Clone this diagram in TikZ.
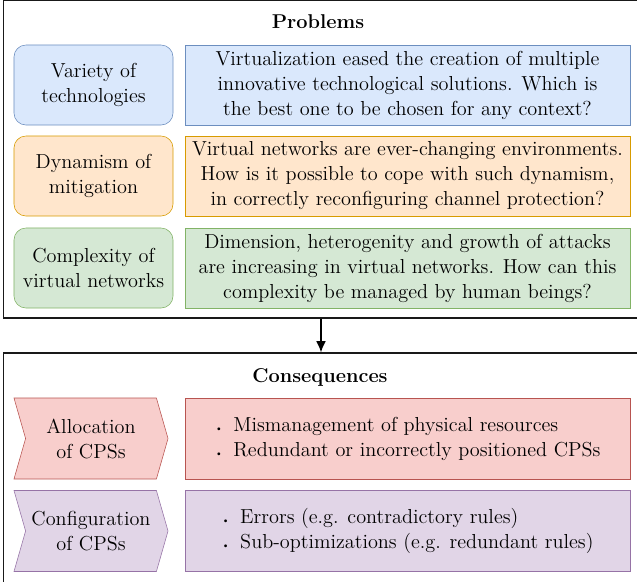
\documentclass[tikz,border=0pt]{standalone}
\usepackage{fontspec}
\usetikzlibrary{shapes}
\usetikzlibrary{shapes.symbols}
\usetikzlibrary{positioning}
\usetikzlibrary{arrows.meta}
\definecolor{bluef}{HTML}{DAE8FC}\definecolor{bluel}{HTML}{6C8EBF}
\definecolor{orangef}{HTML}{FFE6CC}\definecolor{orangel}{HTML}{D79B00}
\definecolor{greenf}{HTML}{D5E8D4}\definecolor{greenl}{HTML}{82B366}
\definecolor{redf}{HTML}{F8CECC}\definecolor{redl}{HTML}{B85450}
\definecolor{purplef}{HTML}{E1D5E7}\definecolor{purplel}{HTML}{9673A6}
\tikzset{
    frame/.style = {rectangle, draw=black!90, line width=0.8pt, minimum width=15.85cm},
    title/.style = {font=\fontsize{14.2}{17.8}\selectfont\bfseries},
    topic/.style = {rectangle, rounded corners=0.3cm, draw=#1l, fill=#1f, align=center, minimum width=3.975cm, minimum height=2cm, inner xsep=1pt, font=\fontsize{14.4}{17.8}\selectfont},
    arrowbox/.style = {signal, signal from=west, signal to=east, signal pointer angle=148, draw=#1l, fill=#1f, align=center, minimum width=3.85cm, minimum height=2.025cm, inner xsep=1pt, font=\fontsize{14.4}{17.8}\selectfont},
    textbox/.style = {rectangle, draw=#1l, fill=#1f, align=center, minimum width=11.125cm, minimum height=2cm, font=\fontsize{14.4}{17.8}\selectfont},
    listbox/.style = {textbox=#1, minimum height=2.025cm, align=left},
    edgen/.style = {-{Latex[length=8pt,width=7pt]}, line width=1.1pt, black}
}
\newcommand{\bul}{{\scriptsize\textbullet}\hspace{0.5em}}

\begin{document}
\begin{tikzpicture}[x=0.025cm, y=-0.025cm]
\useasboundingbox (0,0) rectangle (637,581);
%
\node[frame, minimum height=7.95cm] at (321,159) (probs) {};
\node[frame, minimum height=5.9cm] at (321,471) (cons) {};
%
\node[title] at (318,22) (ptitle) {Problems};
\node[topic=blue] at (93.5,85) (variety) {Variety of\\technologies};
\node[textbox=blue] at (407.5,85) (varietyq) {Virtualization eased the creation of multiple\\innovative technological solutions. Which is\\the best one to be chosen for any context?};
\node[topic=orange] at (93.5,176) (dynamism) {Dynamism of\\mitigation};
\node[textbox=orange] at (407.5,176) (dynamismq) {Virtual networks are ever-changing environments.\\How is it possible to cope with such dynamism,\\in correctly reconfiguring channel protection?};
\node[topic=green] at (93.5,268) (complexity) {Complexity of\\virtual networks};
\node[textbox=green] at (407.5,268) (complexityq) {Dimension, heterogenity and growth of attacks\\are increasing in virtual networks. How can this\\complexity be managed by human beings?};
%
\node[title] at (320,377) (ctitle) {Consequences};
\node[arrowbox=red] at (91,438.5) (alloc) {Allocation\\of CPSs};
\node[listbox=red] at (407.5,438.5) (allocl) {\bul Mismanagement of physical resources\\\bul Redundant or incorrectly positioned CPSs};
\node[arrowbox=purple] at (91,531) (config) {Configuration\\of CPSs};
\node[listbox=purple] at (407.5,531) (configl) {\bul Errors (e.g. contradictory rules)\\\bul Sub-optimizations (e.g. redundant rules)};
%
\draw[edgen] (probs) -- (cons);

\end{tikzpicture}
\end{document}
